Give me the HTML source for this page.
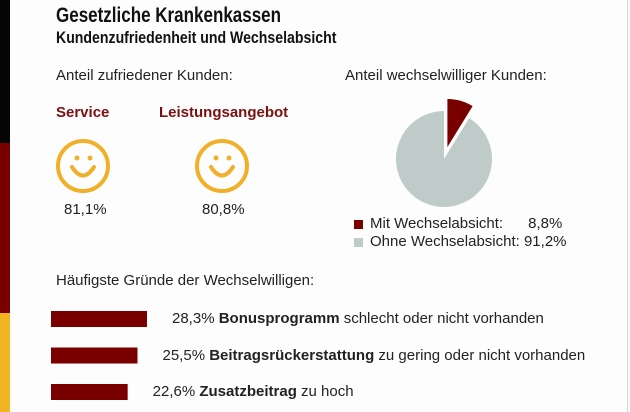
<!DOCTYPE html>
<html><head><meta charset="utf-8"><style>
body{margin:0;width:630px;height:412px;overflow:hidden;background:#fdfdfd;font-family:"Liberation Sans",sans-serif;position:relative}
.t{position:absolute;white-space:nowrap;color:#222}
</style></head><body>
<div style="position:absolute;left:0;top:0;width:10px;height:143px;background:#050505"></div>
<div style="position:absolute;left:0;top:143px;width:10px;height:170px;background:#7a0000"></div>
<div style="position:absolute;left:0;top:313px;width:10px;height:99px;background:#f0b521"></div>
<div style="position:absolute;left:627px;top:0;width:1px;height:412px;background:#cfd8d4"></div>
<div class="t" style="left:56px;top:4px;font-size:21px;font-weight:bold;transform:scaleX(0.81);transform-origin:left;color:#111">Gesetzliche Krankenkassen</div>
<div class="t" style="left:56px;top:28px;font-size:17px;font-weight:bold;transform:scaleX(0.83);transform-origin:left;color:#111">Kundenzufriedenheit und Wechselabsicht</div>
<div class="t" style="left:56px;top:67px;font-size:15px">Anteil zufriedener Kunden:</div>
<div class="t" style="left:56px;top:104px;font-size:15px;font-weight:bold;color:#7a1010">Service</div>
<div class="t" style="left:159px;top:104px;font-size:15px;font-weight:bold;color:#7a1010">Leistungsangebot</div>
<svg width="630" height="412" style="position:absolute;left:0;top:0">
<g fill="none" stroke="#f0b02a" stroke-width="4">
<circle cx="83" cy="166" r="25"/><path d="M72 167 Q83 184 94 167" stroke-linecap="round"/>
<circle cx="77" cy="158" r="2.5" fill="#f0b02a" stroke="none"/><circle cx="90" cy="158" r="2.5" fill="#f0b02a" stroke="none"/></g>
<g fill="none" stroke="#f0b02a" stroke-width="4">
<circle cx="222" cy="166" r="25"/><path d="M211 167 Q222 184 233 167" stroke-linecap="round"/>
<circle cx="216" cy="158" r="2.5" fill="#f0b02a" stroke="none"/><circle cx="229" cy="158" r="2.5" fill="#f0b02a" stroke="none"/></g>
<g id="pie"></g><g id="bars"></g>
</svg>
<div class="t" style="left:64px;top:201px;font-size:15px">81,1%</div>
<div class="t" style="left:202px;top:201px;font-size:15px">80,8%</div>
<div class="t" style="left:345px;top:67px;font-size:15px">Anteil wechselwilliger Kunden:</div>
<div style="position:absolute;left:354px;top:220px;width:9px;height:9px;background:#7a0000"></div>
<div class="t" style="left:370px;top:215px;font-size:15px">Mit Wechselabsicht:&nbsp;&nbsp;&nbsp;&nbsp;&nbsp; 8,8%</div>
<div style="position:absolute;left:354px;top:238px;width:9px;height:9px;background:#bfcbc8"></div>
<div class="t" style="left:370px;top:233px;font-size:15px">Ohne Wechselabsicht: 91,2%</div>
<div class="t" style="left:56px;top:272px;font-size:15px">Häufigste Gründe der Wechselwilligen:</div>
<div id="labels"></div>
<script>
const pieLabels=["Mit Wechselabsicht","Ohne Wechselabsicht"];
const pieValues=[8.8,91.2];
const reasonValues=[28.3,25.5,22.6];
const reasonBold=["Bonusprogramm","Beitragsrückerstattung","Zusatzbeitrag"];
const reasonRest=[" schlecht oder nicht vorhanden"," zu gering oder nicht vorhanden"," zu hoch"];
const reasonPct=["28,3%","25,5%","22,6%"];
const NS="http://www.w3.org/2000/svg";
const cx=444,cy=159,r=48,pieColors=["#7a0000","#bfcbc8"];
const total=pieValues.reduce((a,b)=>a+b,0);
let a0=0;const pg=document.getElementById('pie');
pieValues.forEach((v,i)=>{
 const a1=a0+v/total*2*Math.PI,mid=(a0+a1)/2,off=i===0?12.5:0;
 const ox=cx+off*Math.sin(mid),oy=cy-off*Math.cos(mid);
 const p=document.createElementNS(NS,'path');
 const x0=ox+r*Math.sin(a0),y0=oy-r*Math.cos(a0),x1=ox+r*Math.sin(a1),y1=oy-r*Math.cos(a1);
 p.setAttribute('d',`M${ox} ${oy}L${x0} ${y0}A${r} ${r} 0 ${a1-a0>Math.PI?1:0} 1 ${x1} ${y1}Z`);
 p.setAttribute('fill',pieColors[i]);
 
 
 pg.appendChild(p);a0=a1;
});
const bx=51,scale=96/28.3,bg=document.getElementById('bars'),lb=document.getElementById('labels');
reasonValues.forEach((v,i)=>{
 const y=311+i*36.5,w=v*scale;
 const rc=document.createElementNS(NS,'rect');
 rc.setAttribute('x',bx);rc.setAttribute('y',y);rc.setAttribute('width',w);rc.setAttribute('height',16);rc.setAttribute('fill','#7a0000');
 
 
 bg.appendChild(rc);
 const d=document.createElement('div');d.className='t';
 d.style.left=(bx+w+25)+'px';d.style.top=(y-1)+'px';d.style.fontSize='15px';
 d.innerHTML=reasonPct[i]+' <b>'+reasonBold[i]+'</b>'+reasonRest[i];
 
 
 lb.appendChild(d);
});
</script>
</body></html>
